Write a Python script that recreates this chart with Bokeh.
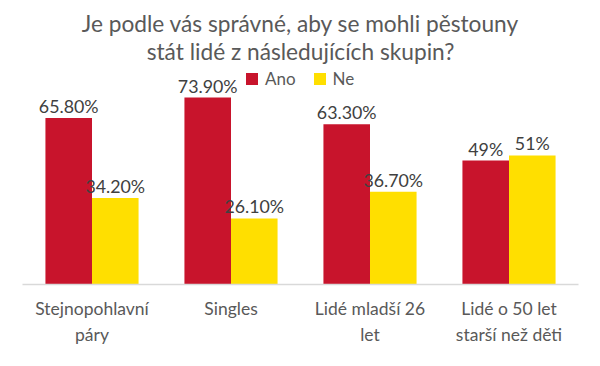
from bokeh.plotting import figure
from bokeh.models import (ColumnDataSource, FactorRange, Range1d, Label, LabelSet, Legend,
                          LegendItem, CategoricalAxis, CustomJSTickFormatter)
from bokeh.transform import dodge
from bokeh.core.properties import value
from bokeh.embed import file_html
from bokeh.resources import INLINE

# ---- data ----
categories = ["Stejnopohlavní páry", "Singles", "Lidé mladší 26 let", "Lidé o 50 let starší než děti"]
category_line1 = ["Stejnopohlavní", "Singles", "Lidé mladší 26", "Lidé o 50 let"]
category_line2 = ["páry", "", "let", "starší než děti"]
series = ["Ano", "Ne"]
ano = [65.8, 73.9, 63.3, 49.0]
ne = [34.2, 26.1, 36.7, 51.0]
ano_labels = ["65.80%", "73.90%", "63.30%", "49%"]
ne_labels = ["34.20%", "26.10%", "36.70%", "51%"]
title_lines = ["Je podle vás správné, aby se mohli pěstouny", "stát lidé z následujících skupin?"]

# ---- style ----
FONT = "Lato"
RED = "#C8142C"
YELLOW = "#FFDF00"
TXT = "#595959"
LBL = "#404040"

W, H = 600, 366
BOTTOM = 82
FRAME_H = H - BOTTOM
PX_PER_UNIT = 2.53
Y_END = FRAME_H / PX_PER_UNIT


def px_to_y(py):
    return (FRAME_H - py) / PX_PER_UNIT


def line_formatter(lines):
    return CustomJSTickFormatter(
        args=dict(keys=categories, vals=lines),
        code="const i = keys.indexOf(tick); return i >= 0 ? vals[i] : tick;")


src = ColumnDataSource(dict(cat=categories, ano=ano, ne=ne, ano_lbl=ano_labels, ne_lbl=ne_labels))

p = figure(width=W, height=H, output_backend="svg", toolbar_location=None,
           x_range=FactorRange(*categories, range_padding=0), y_range=Range1d(0, Y_END),
           min_border_left=22, min_border_right=22, min_border_top=0, min_border_bottom=BOTTOM,
           y_axis_location=None)
p.outline_line_color = None
p.xgrid.visible = False
p.ygrid.visible = False
p.background_fill_color = "white"

BW = 0.335
r1 = p.vbar(x=dodge("cat", -BW / 2, range=p.x_range), top="ano", width=BW, source=src,
            fill_color=RED, line_color=None)
r2 = p.vbar(x=dodge("cat", BW / 2, range=p.x_range), top="ne", width=BW, source=src,
            fill_color=YELLOW, line_color=None)

for col, lbl, off in (("ano", "ano_lbl", -BW / 2), ("ne", "ne_lbl", BW / 2)):
    p.add_layout(LabelSet(x=dodge("cat", off, range=p.x_range), y=col, text=lbl, source=src,
                          text_align="center", text_baseline="alphabetic", y_offset=5,
                          text_font=value(FONT), text_font_size=value("17.8px"),
                          text_color=LBL))

# first line of category labels on the main axis
ax = p.xaxis[0]
ax.axis_line_color = "#D9D9D9"
ax.axis_line_width = 1.5
ax.major_tick_line_color = None
ax.minor_tick_line_color = None
ax.formatter = line_formatter(category_line1)
ax.major_label_standoff = 7
ax.major_label_text_font = FONT
ax.major_label_text_font_size = "17.5px"
ax.major_label_text_color = TXT

# second line of category labels on a second axis below
ax2 = CategoricalAxis(axis_line_color=None, major_tick_line_color=None, minor_tick_line_color=None,
                      formatter=line_formatter(category_line2),
                      major_label_standoff=-4, major_label_text_font=FONT,
                      major_label_text_font_size="17.5px", major_label_text_color=TXT)
p.add_layout(ax2, "below")

for i, t in enumerate(title_lines):
    p.add_layout(Label(x=2, y=px_to_y(23 + 28 * i), text=t, text_align="center",
                       text_baseline="alphabetic", text_font=FONT, text_font_size="22.7px",
                       text_color=TXT))

legend = Legend(items=[LegendItem(label=series[0], renderers=[r1]),
                       LegendItem(label=series[1], renderers=[r2])],
                orientation="horizontal", location=(222, 195),
                glyph_width=15, glyph_height=15, label_standoff=6, spacing=16,
                padding=0, margin=0, border_line_color=None, background_fill_alpha=0,
                label_text_font=FONT, label_text_font_size="17px", label_text_color=TXT)
p.add_layout(legend)

open("out.html", "w").write(file_html(p, INLINE))
